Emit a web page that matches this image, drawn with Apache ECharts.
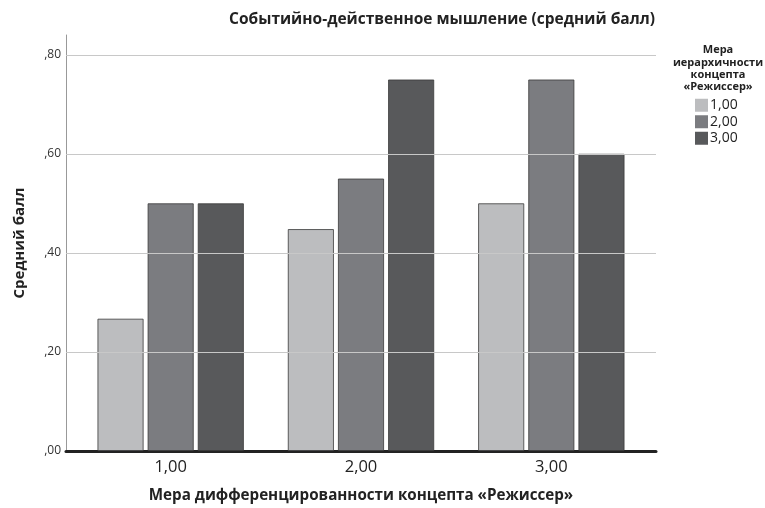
<!DOCTYPE html>
<html><head><meta charset="utf-8">
<script src="https://cdn.jsdelivr.net/npm/echarts@6/dist/echarts.min.js"></script>
<style>html,body{margin:0;padding:0;background:#fff}#c{width:765px;height:508px}</style>
</head><body><div id="c"></div>
<script>
const categories = [1, 2, 3];
const categoryLabels = ['1,00', '2,00', '3,00'];
const seriesNames = ['1,00', '2,00', '3,00'];
const values1 = [0.267, 0.448, 0.50];
const values2 = [0.50, 0.55, 0.75];
const values3 = [0.50, 0.75, 0.60];
const yTicks = [0.2, 0.4, 0.6, 0.8];
const colors = ['#bcbdbf', '#7b7c80', '#58595b'];
const FONT = '"Open Sans", "Noto Sans", sans-serif';

const allValues = [values1, values2, values3];
const chart = echarts.init(document.getElementById('c'));
const fmtY = v => { const s = v.toFixed(2).replace('.', ','); return s.replace(/^0/, ''); };
const series = allValues.map((vals, i) => ({
  name: seriesNames[i], type: 'bar', barWidth: 46, barGap: '9%',
  data: categories.map((c, j) => [c, vals[j]]),
  itemStyle: { color: colors[i], borderColor: '#3a3a3a', borderWidth: 0.8 },
  z: 3
}));
series.push({
  type: 'line', data: [], silent: true, z: 1,
  markLine: { silent: true, symbol: ['none', 'none'], label: { show: false },
    lineStyle: { color: '#c8c8c8', width: 1, type: 'solid' },
    data: yTicks.map(v => ({ yAxis: v })) }
});
chart.setOption({
  animation: false,
  backgroundColor: '#fff',
  title: [
    { text: 'Событийно-действенное мышление (средний балл)', left: 437, top: 7, textAlign: 'center',
      textStyle: { fontFamily: FONT, fontSize: 15.5, fontWeight: 'bold', color: '#222' } },
    { text: 'Мера\nиерархичности\nконцепта\n«Режиссер»', left: 713, top: 39, textAlign: 'center',
      textStyle: { fontFamily: FONT, fontSize: 11, fontWeight: 'bold', color: '#222', lineHeight: 12.3 } }
  ],
  legend: {
    orient: 'vertical', left: 690, top: 92, itemWidth: 13, itemHeight: 13, itemGap: 0,
    icon: 'rect', data: seriesNames,
    itemStyle: { borderWidth: 0 },
    textStyle: { fontFamily: FONT, fontSize: 14, lineHeight: 16.5, color: '#222', padding: [0, 0, 0, -3] }
  },
  grid: { left: 66, right: 109, top: 35, bottom: 56 },
  xAxis: {
    type: 'value', min: 0.45, max: 3.55,
    name: 'Мера дифференцированности концепта «Режиссер»', nameLocation: 'middle', nameGap: 37,
    nameTextStyle: { fontFamily: FONT, fontSize: 15.2, fontWeight: 'bold', color: '#222' },
    axisLine: { show: true, lineStyle: { color: '#222', width: 3 } },
    axisTick: { show: false },
    splitLine: { show: false },
    axisLabel: { customValues: categories, formatter: v => categoryLabels[categories.indexOf(v)] || '',
      fontFamily: FONT, fontSize: 16.5, color: '#222', margin: 8 }
  },
  yAxis: {
    type: 'value', min: 0, max: 0.84, interval: 0.2,
    name: 'Средний балл', nameLocation: 'middle', nameGap: 39, nameRotate: 90,
    nameTextStyle: { fontFamily: FONT, fontSize: 15, fontWeight: 'bold', color: '#222' },
    axisLine: { show: true, lineStyle: { color: '#999', width: 1 } },
    axisTick: { show: false },
    splitLine: { show: false },
    axisLabel: { formatter: fmtY, showMaxLabel: false, fontFamily: FONT, fontSize: 12, color: '#333', margin: 5 }
  },
  series: series
});
</script></body></html>
